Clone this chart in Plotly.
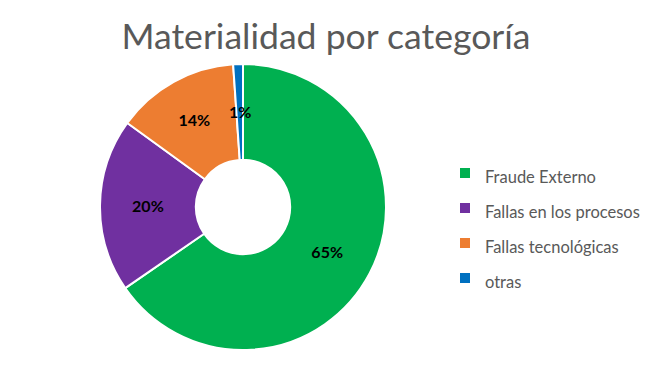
import math
import plotly.graph_objects as go

categories = ["Fraude Externo", "Fallas en los procesos", "Fallas tecnológicas", "otras"]
values = [65.4, 19.6, 13.9, 1.1]
colors = ["#00B050", "#7030A0", "#ED7D31", "#0070C0"]
title_text = "Materialidad por categoría"

W, H = 652, 385
HOLE = 0.33
# pie placement (pixels)
PX0, PX1, PY0, PY1 = 100, 386, 64, 350
dom_x = [PX0 / W, PX1 / W]
dom_y = [1 - PY1 / H, 1 - PY0 / H]

legend_labels = ['<span style="font-size:16.5px">' + c + '</span>' for c in categories]

total = sum(values)
pct_text = ["<b>{:.0f}%</b>".format(v / total * 100) for v in values]
# small slices get their label placed at mid-ring via annotation
small = [v / total < 0.03 for v in values]
textpos = ["none" if s else "inside" for s in small]

fig = go.Figure(go.Pie(
    labels=legend_labels,
    values=values,
    hole=HOLE,
    sort=False,
    direction="clockwise",
    rotation=0,
    marker=dict(colors=colors, line=dict(color="white", width=2)),
    text=pct_text,
    texttemplate="%{text}",
    textposition=textpos,
    insidetextorientation="horizontal",
    textfont=dict(family="Lato", size=16, color="black"),
    domain=dict(x=dom_x, y=dom_y),
    hoverinfo="label+percent",
))

# annotation for small slices at the middle of the ring
cx = (dom_x[0] + dom_x[1]) / 2
cy = (dom_y[0] + dom_y[1]) / 2
R_px = (PX1 - PX0) / 2
r_mid = R_px * (1 + HOLE) / 2
cum = 0
for v, s, t in zip(values, small, pct_text):
    mid = (cum + v / 2) / total
    cum += v
    if s:
        ang = 2 * math.pi * mid
        ax = cx + r_mid * math.sin(ang) / W
        ay = cy + r_mid * math.cos(ang) / H
        fig.add_annotation(x=ax, y=ay, xref="paper", yref="paper", text=t, showarrow=False,
                           font=dict(family="Lato", size=16, color="black"),
                           xanchor="center", yanchor="middle")

fig.update_layout(
    width=W, height=H,
    margin=dict(l=0, r=0, t=0, b=0, autoexpand=False),
    paper_bgcolor="white",
    font=dict(family="Lato", color="#595959"),
    title=dict(text=title_text, x=0.5, xanchor="center", y=1 - 36.5 / H, yanchor="middle",
               font=dict(family="Lato", size=35.6, color="#595959")),
    uniformtext=dict(minsize=16, mode="show"),
    legend=dict(x=0.6825, xanchor="left", y=0.414, yanchor="middle",
                font=dict(family="Lato", size=24.6, color="#595959"),
                bgcolor="rgba(0,0,0,0)"),
)

fig.write_html("out.html", config={"displayModeBar": False},
               post_script="document.body.style.margin='0';")
